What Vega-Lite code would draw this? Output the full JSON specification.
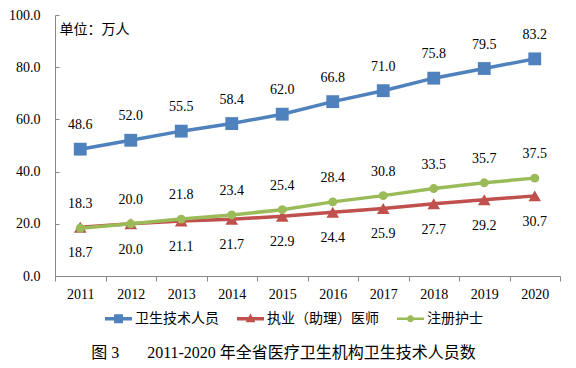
{
  "$schema": "https://vega.github.io/schema/vega-lite/v6.json",
  "width": 505,
  "height": 261,
  "autosize": "none",
  "padding": {"left": 55, "top": 15, "right": 16, "bottom": 92},
  "background": "white",
  "config": {
    "view": {"stroke": null},
    "font": "Liberation Serif"
  },
  "title": {
    "text": "图 3\u3000\u00a0\u00a0 2011-2020 年全省医疗卫生机构卫生技术人员数",
    "orient": "bottom",
    "font": "Liberation Serif, Noto Sans CJK SC",
    "fontSize": 16,
    "fontWeight": "normal",
    "color": "#000000",
    "offset": 19,
    "dx": -24
  },
  "data": {
    "values": [
      {"year": "2011", "series": "卫生技术人员", "value": 48.6},
      {"year": "2012", "series": "卫生技术人员", "value": 52.0},
      {"year": "2013", "series": "卫生技术人员", "value": 55.5},
      {"year": "2014", "series": "卫生技术人员", "value": 58.4},
      {"year": "2015", "series": "卫生技术人员", "value": 62.0},
      {"year": "2016", "series": "卫生技术人员", "value": 66.8},
      {"year": "2017", "series": "卫生技术人员", "value": 71.0},
      {"year": "2018", "series": "卫生技术人员", "value": 75.8},
      {"year": "2019", "series": "卫生技术人员", "value": 79.5},
      {"year": "2020", "series": "卫生技术人员", "value": 83.2},
      {"year": "2011", "series": "执业（助理）医师", "value": 18.7},
      {"year": "2012", "series": "执业（助理）医师", "value": 20.0},
      {"year": "2013", "series": "执业（助理）医师", "value": 21.1},
      {"year": "2014", "series": "执业（助理）医师", "value": 21.7},
      {"year": "2015", "series": "执业（助理）医师", "value": 22.9},
      {"year": "2016", "series": "执业（助理）医师", "value": 24.4},
      {"year": "2017", "series": "执业（助理）医师", "value": 25.9},
      {"year": "2018", "series": "执业（助理）医师", "value": 27.7},
      {"year": "2019", "series": "执业（助理）医师", "value": 29.2},
      {"year": "2020", "series": "执业（助理）医师", "value": 30.7},
      {"year": "2011", "series": "注册护士", "value": 18.3},
      {"year": "2012", "series": "注册护士", "value": 20.0},
      {"year": "2013", "series": "注册护士", "value": 21.8},
      {"year": "2014", "series": "注册护士", "value": 23.4},
      {"year": "2015", "series": "注册护士", "value": 25.4},
      {"year": "2016", "series": "注册护士", "value": 28.4},
      {"year": "2017", "series": "注册护士", "value": 30.8},
      {"year": "2018", "series": "注册护士", "value": 33.5},
      {"year": "2019", "series": "注册护士", "value": 35.7},
      {"year": "2020", "series": "注册护士", "value": 37.5}
    ]
  },
  "encoding": {
    "x": {
      "field": "year",
      "type": "ordinal",
      "bandPosition": 0.5,
      "scale": {"type": "band", "paddingInner": 0, "paddingOuter": 0},
      "axis": {
        "title": null,
        "labelAngle": 0,
        "tickBand": "extent",
        "grid": false,
        "domainColor": "#888888",
        "tickColor": "#888888",
        "tickSize": 5,
        "labelFont": "Liberation Serif",
        "labelFontSize": 14,
        "labelColor": "#000000",
        "labelPadding": 6
      }
    },
    "y": {
      "field": "value",
      "type": "quantitative",
      "scale": {"domain": [0, 100]},
      "axis": {
        "values": [0, 20, 40, 60, 80, 100],
        "format": ".1f",
        "grid": false,
        "domainColor": "#888888",
        "tickColor": "#888888",
        "tickSize": -4,
        "labelPadding": 19,
        "labelFont": "Liberation Serif",
        "labelFontSize": 14,
        "labelColor": "#000000",
        "title": "单位：万人",
        "titleAngle": 0,
        "titleAlign": "left",
        "titleBaseline": "middle",
        "titleX": 4,
        "titleY": 14,
        "titleFont": "Noto Sans CJK SC",
        "titleFontSize": 14,
        "titleFontWeight": "normal",
        "titleColor": "#000000"
      }
    },
    "color": {
      "field": "series",
      "type": "nominal",
      "scale": {
        "domain": ["卫生技术人员", "执业（助理）医师", "注册护士"],
        "range": ["#4F81BD", "#C0504D", "#9BBB59"]
      },
      "legend": {
        "title": null,
        "orient": "none",
        "legendX": 50,
        "legendY": 290,
        "direction": "horizontal",
        "labelFont": "Noto Sans CJK SC",
        "labelFontSize": 14,
        "labelColor": "#000000",
        "symbolSize": 729,
        "symbolStrokeWidth": 0,
        "columnPadding": 18,
        "labelOffset": 3,
        "encode": {
          "symbols": {
            "update": {
              "shape": {"signal": "datum.value === '卫生技术人员' ? 'M-1,-0.13H1V0.13H-1Z M-0.33,-0.33H0.33V0.33H-0.33Z' : datum.value === '注册护士' ? 'M-1,-0.1H1V0.1H-1Z M-0.26,0A0.26,0.26 0 1,1 0.26,0A0.26,0.26 0 1,1 -0.26,0Z' : 'M-1,-0.13H1V0.13H-1Z M0,-0.38L0.36,0.26L-0.36,0.26Z'"},
              "size": {"value": 729},
              "strokeWidth": {"value": 0}
            }
          }
        }
      }
    }
  },
  "layer": [
    {
      "mark": {"type": "line", "strokeWidth": 3.5},
      "encoding": {}
    },
    {
      "transform": [{"filter": "datum.series === '卫生技术人员'"}],
      "mark": {"type": "point", "filled": true, "opacity": 1, "shape": "square", "size": 165},
      "encoding": {}
    },
    {
      "transform": [{"filter": "datum.series === '执业（助理）医师'"}],
      "mark": {"type": "point", "filled": true, "opacity": 1, "shape": "triangle-up", "size": 160},
      "encoding": {}
    },
    {
      "transform": [{"filter": "datum.series === '注册护士'"}],
      "mark": {"type": "point", "filled": true, "opacity": 1, "shape": "circle", "size": 80},
      "encoding": {}
    },
    {
      "transform": [{"filter": "datum.series !== '执业（助理）医师'"}],
      "mark": {"type": "text", "dy": -24, "fontSize": 14, "font": "Liberation Serif", "color": "#000000"},
      "encoding": {
        "text": {"field": "value", "type": "quantitative", "format": ".1f"},
        "color": {"value": "#000000"}
      }
    },
    {
      "transform": [{"filter": "datum.series === '执业（助理）医师'"}],
      "mark": {"type": "text", "dy": 26, "fontSize": 14, "font": "Liberation Serif", "color": "#000000"},
      "encoding": {
        "text": {"field": "value", "type": "quantitative", "format": ".1f"},
        "color": {"value": "#000000"}
      }
    }
  ]
}
